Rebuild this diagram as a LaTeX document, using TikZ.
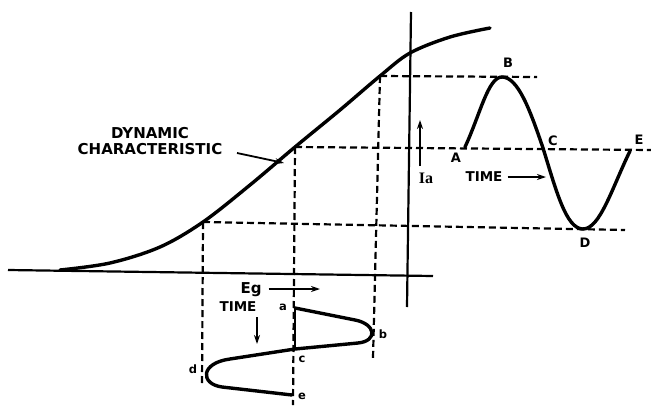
\documentclass[tikz,border=0pt]{standalone}
\usepackage{fontspec}
\setmainfont{DejaVu Sans}
\newfontfamily\iafont{Liberation Serif}
\usetikzlibrary{arrows.meta}

\begin{document}
\begin{tikzpicture}[x=1pt,y=-1pt,
  every node/.style={inner sep=1pt,font=\bfseries\fontsize{13.5}{14}\selectfont},
  pt/.style={font=\bfseries\fontsize{13}{13}\selectfont},
  small/.style={font=\bfseries\fontsize{11.5}{12}\selectfont},
  axis/.style={line width=2.2pt},
  curve/.style={line width=3.4pt,line cap=round},
  guide/.style={line width=2.2pt,dash pattern=on 7pt off 4pt},
  pointer/.style={line width=1.8pt,-{Stealth[length=9pt,width=6pt]}}]
\useasboundingbox (0,0) rectangle (651,405);
% axes
\draw[axis] (8,270) -- (433,276);
\draw[axis] (411,12) -- (407,307);
% operating points on the characteristic
\coordinate (lo) at (203,222);
\coordinate (mid) at (295,147);
\coordinate (hi) at (380,76);
% dynamic characteristic
\draw[curve] plot[smooth,tension=0.55] coordinates {(60,270) (110,263) (160,247) (lo) (250,185) (mid) (340,110) (hi) (410,53) (450,37) (490,28)};
% projections
\draw[guide] (hi) -- (537,77);
\draw[guide] (mid) -- (651,150);
\draw[guide] (lo) -- (625,230);
\draw[guide] (lo) -- (202,386);
\draw[guide] (mid) -- (293,405);
\draw[guide] (hi) -- (373,358);
% plate current wave
\coordinate (A) at (465,147);
\coordinate (B) at (502,77);
\coordinate (C) at (543,148);
\coordinate (D) at (583,229);
\coordinate (E) at (630,151);
\draw[curve] (A) .. controls (480,115) and (488,77) .. (B)
  .. controls (518,77) and (530,110) .. (C)
  .. controls (556,190) and (566,229) .. (D)
  .. controls (600,229) and (612,188) .. (E);
\foreach \p/\q in {A/{(456,158)},B/{(508,63)},C/{(553,141)},D/{(585,243)},E/{(639,140)}}
  \node[pt] (l\p) at \q {\p};
% grid voltage wave
\coordinate (a) at (295,308);
\coordinate (b) at (374,332);
\coordinate (c) at (295,349);
\coordinate (d) at (203,372);
\coordinate (e) at (292,395);
\draw[line width=2.2pt] (a) -- (c);
\draw[curve] (a) -- (355,320) .. controls (376,324) and (378,341) .. (358,343)
  -- (c) -- (230,359) .. controls (200,363) and (200,384) .. (222,387) -- (e);
\foreach \p/\q in {a/{(283,307)},b/{(383,334)},c/{(302,359)},d/{(193,369)},e/{(302,396)}}
  \node[small] (l\p) at \q {\p};
% labels
\node[align=center,font=\bfseries\fontsize{15}{15.5}\selectfont] (dyn) at (150,141) {DYNAMIC\\CHARACTERISTIC};
\coordinate (dyntip) at (284,163);
\draw[pointer] (237,153) -- (dyntip);
\node (ia) at (426,178) {\iafont\fontsize{16}{16}\selectfont Ia};
\coordinate (iatop) at (420,120);
\draw[pointer] (420,166) -- (iatop);
\node (tr) at (484,177) {TIME};
\draw[pointer] (tr.east) ++(4,0) -- (546,177);
\node (eg) at (251,290) {\fontsize{15}{15}\selectfont Eg};
\draw[pointer] (eg.east) ++(6,-1) -- (320,289);
\node (tg) at (238,307) {TIME};
\draw[pointer] (257,317) -- (257,344);
\end{tikzpicture}
\end{document}
